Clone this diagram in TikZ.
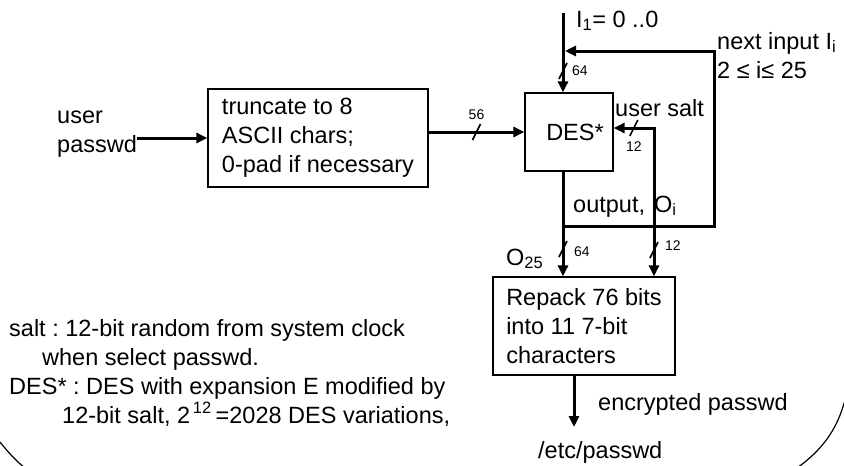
\documentclass[tikz,border=0pt]{standalone}
\usepackage{fontspec}
\setmainfont{Liberation Sans}
\frenchspacing
\usetikzlibrary{arrows.meta,positioning}

\tikzset{
  box/.style={draw, line width=1.2pt, align=left, inner sep=0pt},
  wire/.style={line width=3pt},
  arr/.style={wire, -{Triangle[length=11pt,width=10pt]}},
  txt/.style={inner sep=0pt, anchor=base west, align=left},
  small/.style={inner sep=0pt, font=\fontsize{14}{16}\selectfont},
}
\newcommand{\busmark}[1]{\draw[line width=1.6pt] (#1) ++(-4,8) -- ++(8,-16);}

\begin{document}
\begin{tikzpicture}[x=1pt,y=-1pt,font=\fontsize{23.5}{29}\selectfont]
\useasboundingbox (0,0) rectangle (844,466);
\node[box, minimum width=220pt, minimum height=98pt](trunc) at (318,138){truncate to 8\\ASCII chars;\\0-pad if necessary};
\node[box, minimum width=88pt, minimum height=78pt](des) at (569,132){\hspace*{12pt}DES*};
\node[box, minimum width=182pt, minimum height=98pt](rep) at (584,326){Repack 76 bits\\into 11 7-bit\\characters};
\node[txt](upw) at (57,152){user\\passwd};
\node[txt](iname) at (576,27){I\textsubscript{1}= 0 ..0};
\node[txt](nxt) at (717,78){next input I\textsubscript{i}\\2 ≤ i≤ 25};
\node[txt](usalt) at (615,116){user salt};
\node[txt](outp) at (573,212){output,\hspace{9pt}O\textsubscript{i}};
\node[txt](olast) at (506,265){O\textsubscript{25}};
\node[txt](encr) at (598,410){encrypted passwd};
\node[txt](etc) at (538,458){/etc/passwd};
\node[txt](saltnote) at (9,365){salt : 12-bit random from system clock\\\hspace*{33pt}when select passwd.};
\node[txt](desnote) at (9,423){DES* : DES with expansion E modified by\\\hspace*{53pt}12-bit salt, 2\textsuperscript{\,12}\,=2028 DES variations,};
\coordinate(inI) at (563,13);
\coordinate(fbA) at (563,226);
\coordinate(fbB) at (714,226);
\coordinate(fbC) at (714,51);
\coordinate(fbD) at (565,51);
\coordinate(salt) at (654,128);
\coordinate(enc) at (574,427);
\coordinate(m64a) at (563,71);
\coordinate(m64b) at (563,249);
\coordinate(m12b) at (654,250);
\draw[arr](upw.east |- trunc.west)--(trunc.west);
\draw[arr](trunc.east |- des.west)-- coordinate(m56) (des.west);
\draw[arr](inI)--(inI |- des.north);
\draw[arr](inI |- des.south)--(inI |- rep.north);
\draw[arr](fbA)--(fbB)--(fbC)--(fbD);
\draw[wire,{Triangle[length=11pt,width=10pt]}-{Triangle[length=11pt,width=10pt]}](salt -| des.east)-- coordinate(m12a) (salt)--(salt |- rep.north);
\draw[arr](rep.south -| enc)--(enc);
\busmark{m56}
\busmark{m64a}
\busmark{m64b}
\busmark{m12a}
\busmark{m12b}
\node[small, above=12pt] at (m56){56};
\node[small, right=9pt] at (m64a){64};
\node[small, right=11pt, yshift=-3pt] at (m64b){64};
\node[small, below=14pt] at (m12a){12};
\node[small, right=11pt, yshift=4pt] at (m12b){12};
\draw[line width=1.2pt](0,442) .. controls (8,452) and (15,460) .. (25,468);
\draw[line width=1.2pt](797,468) .. controls (822,450) and (837,430) .. (845,400);
\end{tikzpicture}
\end{document}
